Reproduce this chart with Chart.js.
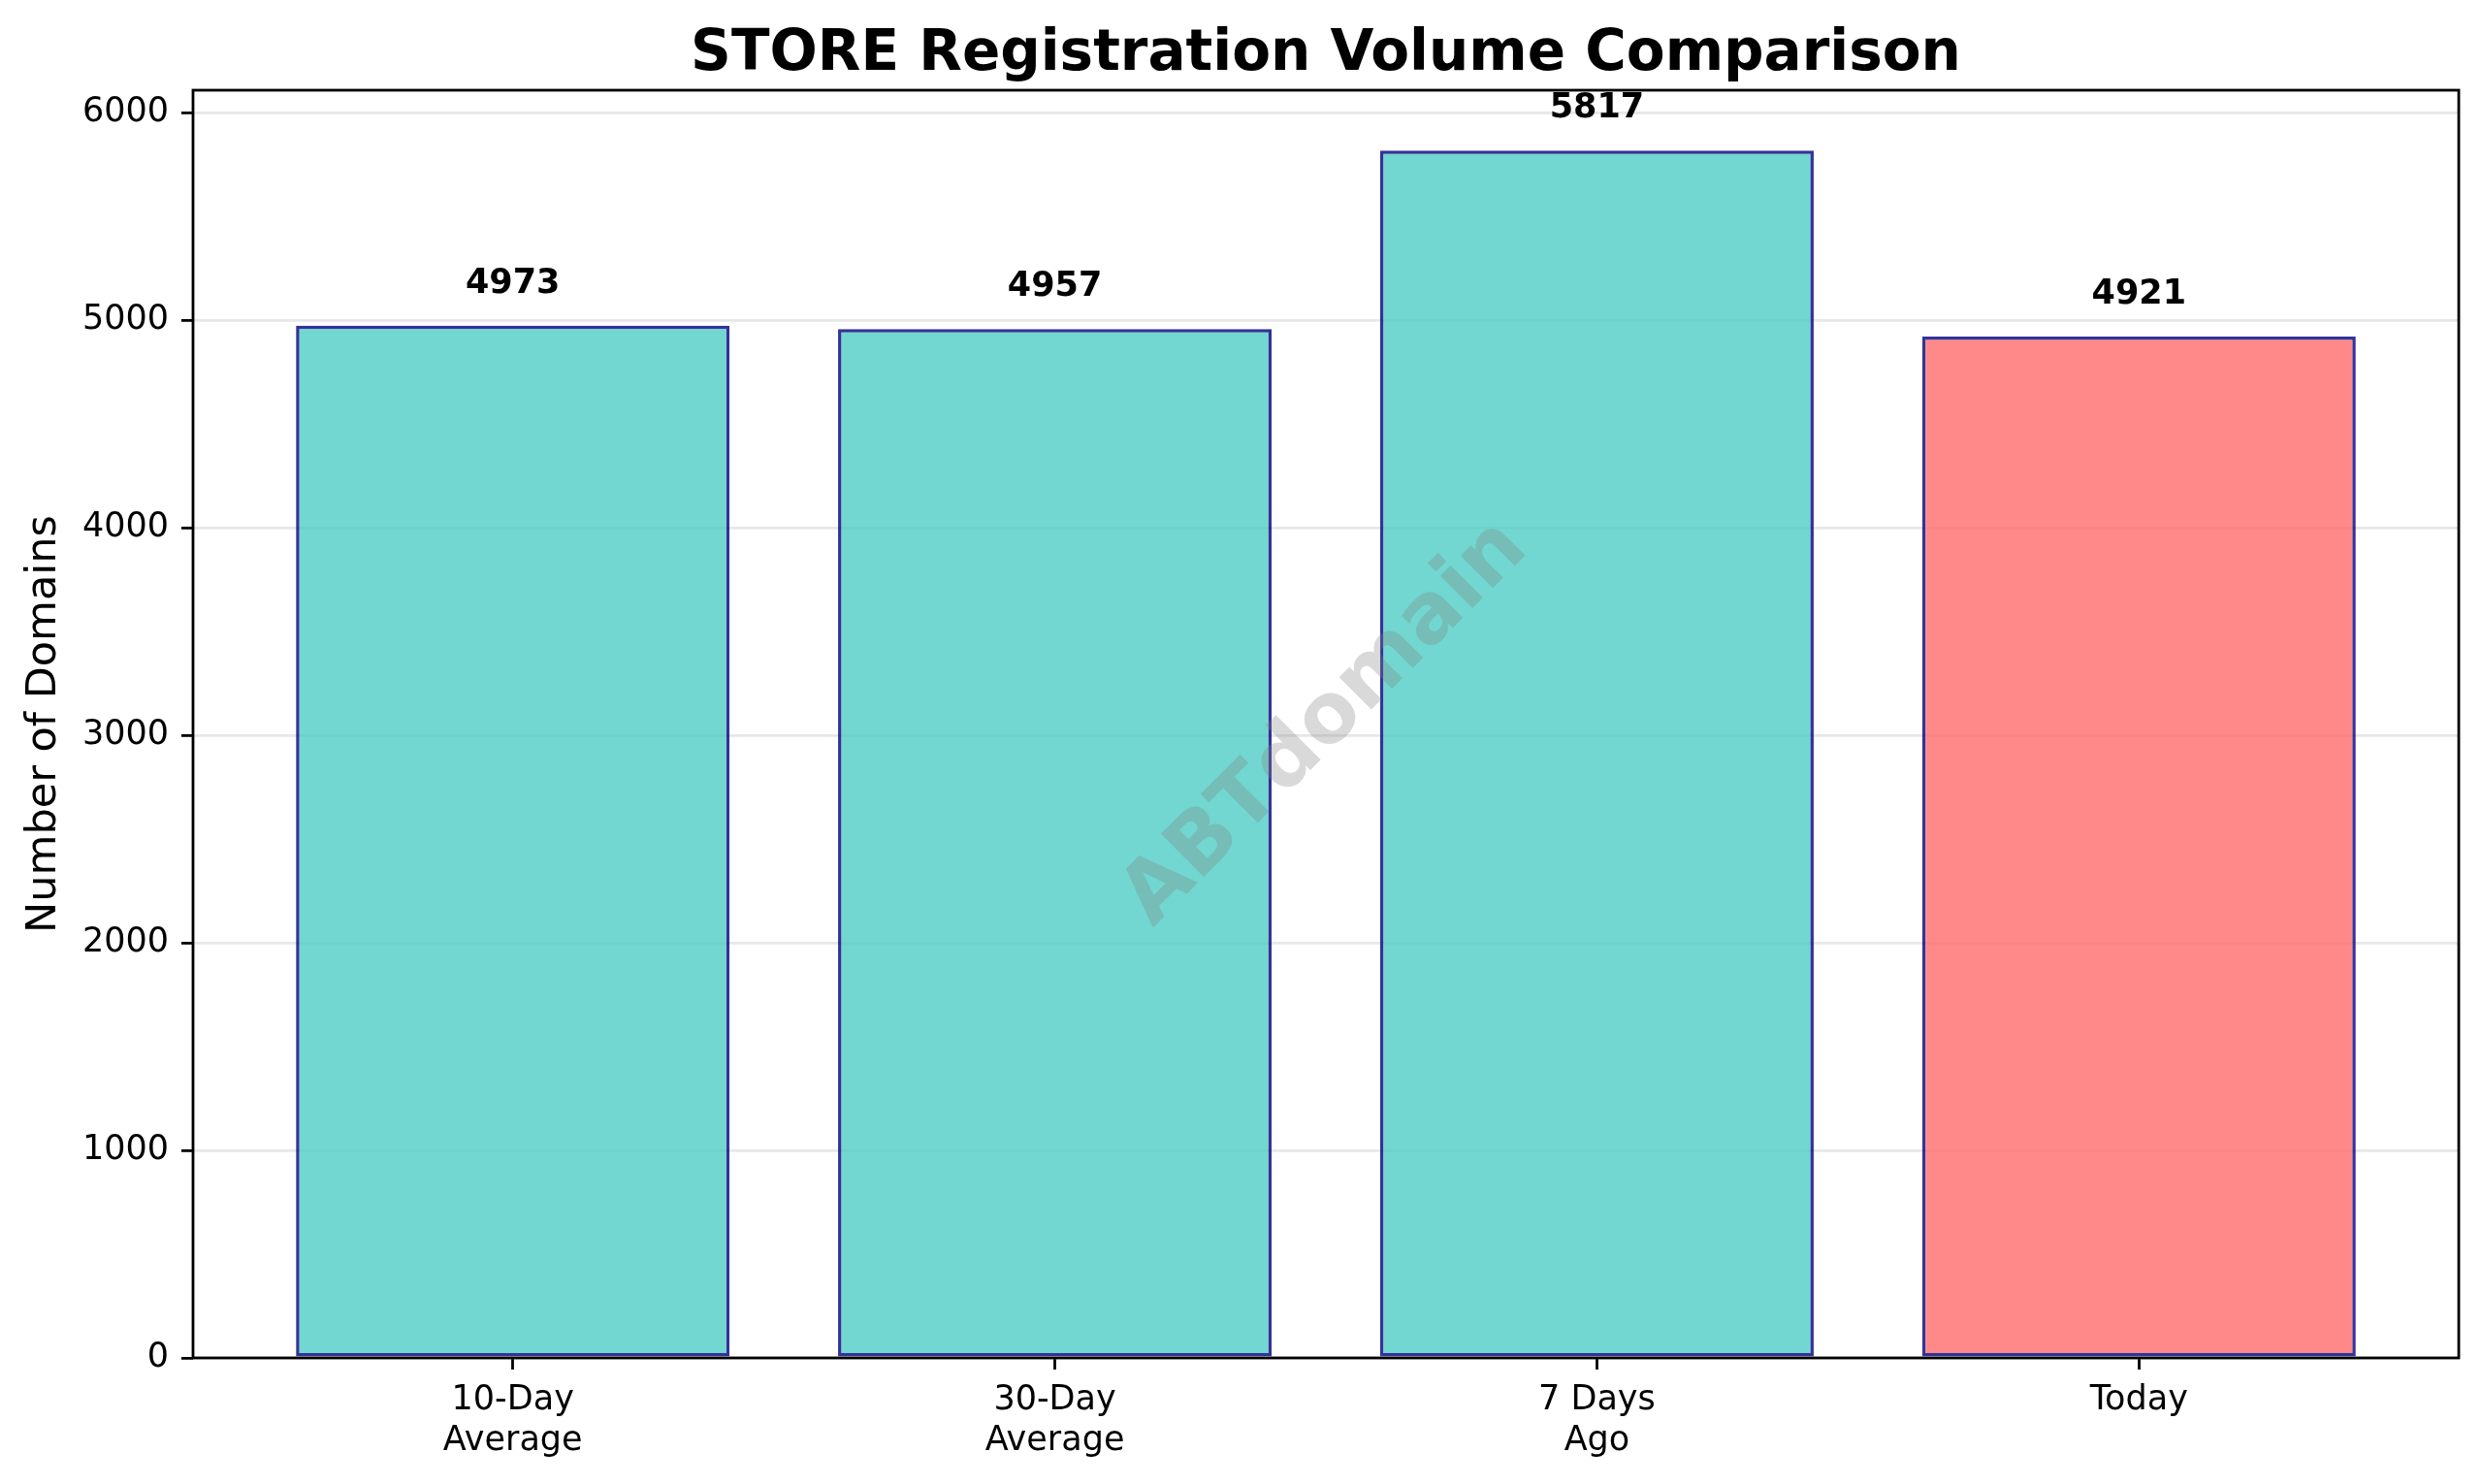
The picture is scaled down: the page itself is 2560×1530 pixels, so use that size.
<!DOCTYPE html>
<html>
<head>
<meta charset="utf-8">
<script src="https://cdn.jsdelivr.net/npm/chart.js@4"></script>
<style>
    body { margin: 0; background: #fff; }
    #wrap { width: 2560px; height: 1530px; }
</style>
</head>
<body>
<div id="wrap"><canvas id="chart"></canvas></div>
<script>
const categories = [['10-Day', 'Average'], ['30-Day', 'Average'], ['7 Days', 'Ago'], ['Today']];
const volumes = [4973, 4957, 5817, 4921];
const barColors = ['rgba(78,205,196,0.8)', 'rgba(78,205,196,0.8)', 'rgba(78,205,196,0.8)', 'rgba(255,107,107,0.8)'];
const yTicks = [0, 1000, 2000, 3000, 4000, 5000, 6000];

const titleText = 'STORE Registration Volume Comparison';
const watermark = 'ABTdomain';
const font = '"DejaVu Sans", sans-serif';

// matplotlib-like limits
const xMargin = 0.05 * (categories.length - 1 + 0.8);
const yMax = Math.max(...volumes) * 1.05;

Chart.defaults.color = '#000';
Chart.defaults.font.family = font;

const decorPlugin = {
    id: 'decor',
    afterDraw(chart) {
        const ctx = chart.ctx;
        const area = chart.chartArea;
        const cx = (area.left + area.right) / 2;
        const cy = (area.top + area.bottom) / 2;

        // frame
        ctx.save();
        ctx.strokeStyle = '#000';
        ctx.lineWidth = 2.8;
        ctx.strokeRect(area.left, area.top, area.right - area.left, area.bottom - area.top);

        // value labels
        ctx.fillStyle = '#000';
        ctx.font = 'bold 35px ' + font;
        ctx.textAlign = 'center';
        ctx.textBaseline = 'alphabetic';
        chart.getDatasetMeta(0).data.forEach((bar, i) => {
            ctx.fillText(String(volumes[i]), bar.x, bar.y - 34);
        });

        // title
        ctx.font = 'bold 58px ' + font;
        ctx.fillText(titleText, cx, 72);

        // watermark
        ctx.translate(cx, cy);
        ctx.rotate(-Math.PI / 4);
        ctx.font = 'bold 86px ' + font;
        ctx.textBaseline = 'middle';
        ctx.fillStyle = 'rgba(128,128,128,0.3)';
        ctx.fillText(watermark, 0, 0);
        ctx.restore();
    }
};

new Chart(document.getElementById('chart'), {
    type: 'bar',
    data: {
        datasets: [{
            data: volumes.map((v, i) => ({x: i, y: v})),
            backgroundColor: barColors,
            borderColor: 'rgba(0,0,128,0.8)',
            borderWidth: 3.5,
            borderSkipped: false,
            categoryPercentage: 1,
            barPercentage: 0.8
        }]
    },
    options: {
        responsive: true,
        maintainAspectRatio: false,
        animation: false,
        layout: {padding: {top: 93, right: 25, left: 0, bottom: 0}},
        plugins: {
            legend: {display: false},
            tooltip: {enabled: false}
        },
        scales: {
            x: {
                type: 'linear',
                offset: false,
                min: -0.4 - xMargin,
                max: categories.length - 1 + 0.4 + xMargin,
                afterBuildTicks: scale => {
                    scale.ticks = categories.map((c, i) => ({value: i}));
                },
                afterFit: scale => { scale.height = 130; },
                ticks: {
                    callback: value => categories[value],
                    font: {size: 35},
                    padding: 11,
                    maxRotation: 0,
                    autoSkip: false
                },
                grid: {
                    offset: false,
                    drawOnChartArea: false,
                    drawTicks: true,
                    tickLength: 12,
                    tickColor: '#000',
                    tickWidth: 2.8
                },
                border: {display: false}
            },
            y: {
                min: 0,
                max: yMax,
                z: 1,
                afterBuildTicks: scale => {
                    scale.ticks = yTicks.map(v => ({value: v}));
                },
                afterFit: scale => { scale.width = 199; },
                ticks: {
                    callback: value => String(value),
                    font: {size: 35},
                    padding: 13
                },
                grid: {
                    color: 'rgba(176,176,176,0.3)',
                    lineWidth: 2.8,
                    tickLength: 12,
                    tickColor: '#000',
                    tickWidth: 2.8
                },
                border: {display: false},
                title: {
                    display: true,
                    text: 'Number of Domains',
                    font: {size: 43},
                    padding: {top: 20, bottom: 0}
                }
            }
        }
    },
    plugins: [decorPlugin]
});
</script>
</body>
</html>
